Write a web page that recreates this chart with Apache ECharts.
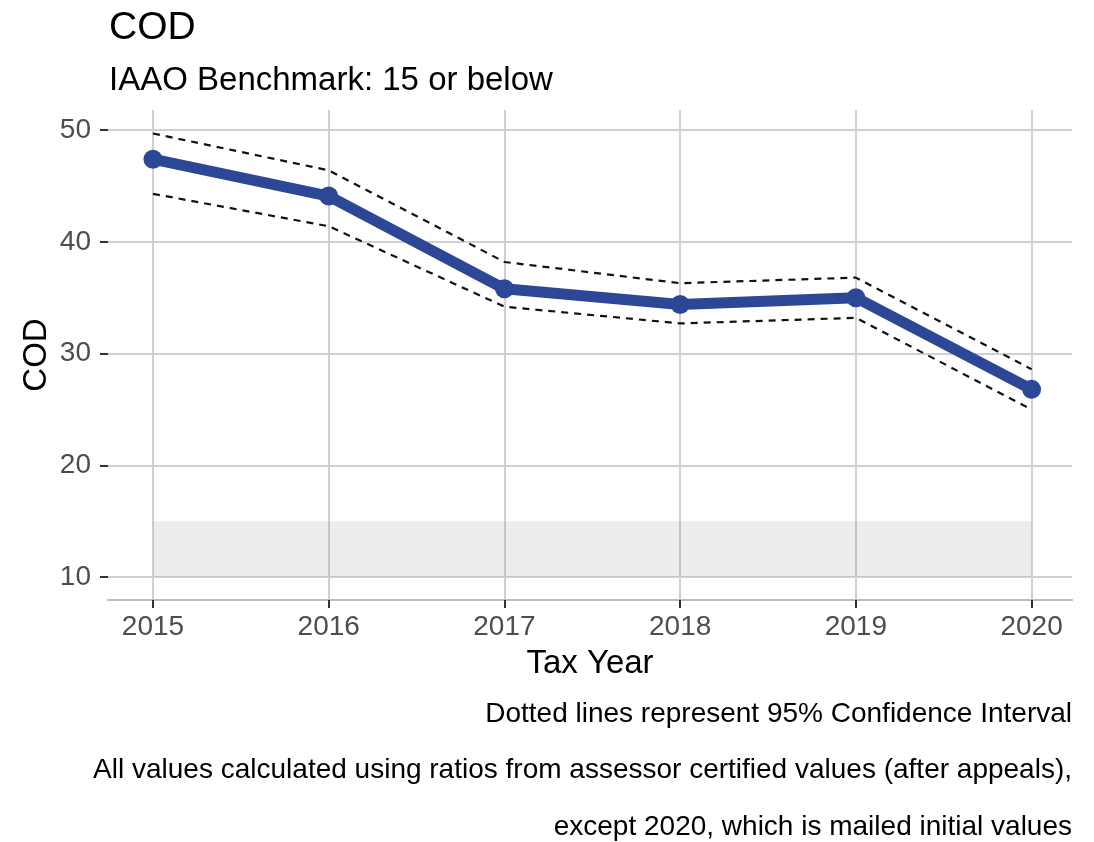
<!DOCTYPE html>
<html>
<head>
<meta charset="utf-8">
<script src="https://cdn.jsdelivr.net/npm/echarts@6/dist/echarts.min.js"></script>
<style>
  html, body { margin: 0; background: #fff; }
  #container { width: 1094px; height: 842px; }
</style>
</head>
<body>
<div id="container"></div>
<script>
// data
const years = [2015, 2016, 2017, 2018, 2019, 2020]
const cod = [47.4, 44.1, 35.8, 34.4, 35.0, 26.8]
const ciUpper = [49.7, 46.4, 38.2, 36.3, 36.8, 28.6]
const ciLower = [44.3, 41.4, 34.2, 32.7, 33.2, 25.0]
const yTicks = [10, 20, 30, 40, 50]
const benchmarkBand = [10, 15]   // IAAO benchmark zone
const captions = [
  'Dotted lines represent 95% Confidence Interval',
  'All values calculated using ratios from assessor certified values (after appeals),',
  'except 2020, which is mailed initial values'
]

const FONT = '"Liberation Sans", Arial, sans-serif'
const pair = (vals) => years.map((y, i) => [y, vals[i]])

const myChart = echarts.init(document.getElementById('container'))

const gridLine = { show: true, lineStyle: { color: '#d0d0d0', width: 2 } }

myChart.setOption({
  animation: false,
  title: [
    { text: 'COD', left: 104, top: 4, textStyle: { fontFamily: FONT, fontSize: 39, fontWeight: 'normal', color: '#000' } },
    { text: 'IAAO Benchmark: 15 or below', left: 104, top: 59, textStyle: { fontFamily: FONT, fontSize: 33, fontWeight: 'normal', color: '#000' } }
  ],
  grid: { left: 108, right: 22, top: 110, bottom: 242 },
  xAxis: {
    type: 'value',
    min: 2014.744,
    max: 2020.23,
    name: 'Tax Year',
    nameLocation: 'middle',
    nameGap: 47,
    nameTextStyle: { fontFamily: FONT, fontSize: 33, color: '#000' },
    axisLine: { show: true, lineStyle: { color: '#bdbdbd', width: 2 } },
    axisTick: { show: true, customValues: years, length: 8, lineStyle: { color: '#333', width: 2 } },
    axisLabel: { customValues: years, margin: 13, fontFamily: FONT, fontSize: 28, color: '#4d4d4d', formatter: (v) => String(v) },
    splitLine: gridLine
  },
  yAxis: {
    type: 'value',
    min: 7.95,
    max: 51.8,
    name: 'COD',
    nameLocation: 'middle',
    nameGap: 55,
    nameMoveOverlap: false,
    nameTextStyle: { fontFamily: FONT, fontSize: 33, color: '#000' },
    axisLine: { show: false },
    axisTick: { show: true, customValues: yTicks, length: 8, lineStyle: { color: '#333', width: 2 } },
    axisLabel: { customValues: yTicks, margin: 17, fontFamily: FONT, fontSize: 28, color: '#4d4d4d' },
    splitLine: gridLine
  },
  graphic: captions.map((t, i) => ({
    type: 'text',
    right: 22,
    top: 700 + i * 56.5,
    style: { text: t, font: '28px ' + FONT, fill: '#000', textAlign: 'right' }
  })),
  series: [
    {
      name: 'band',
      type: 'line',
      data: [],
      markArea: {
        silent: true,
        itemStyle: { color: 'rgba(150,150,150,0.18)' },
        data: [[{ coord: [years[0], benchmarkBand[0]] }, { coord: [years[years.length - 1], benchmarkBand[1]] }]]
      }
    },
    {
      name: 'upper',
      type: 'line',
      data: pair(ciUpper),
      showSymbol: false,
      lineStyle: { color: '#111', width: 2.2, type: [7, 6] }
    },
    {
      name: 'lower',
      type: 'line',
      data: pair(ciLower),
      showSymbol: false,
      lineStyle: { color: '#111', width: 2.2, type: [7, 6] }
    },
    {
      name: 'COD',
      type: 'line',
      data: pair(cod),
      symbol: 'circle',
      symbolSize: 19,
      itemStyle: { color: '#2d4797' },
      lineStyle: { color: '#2d4797', width: 11 }
    }
  ]
})
</script>
</body>
</html>
